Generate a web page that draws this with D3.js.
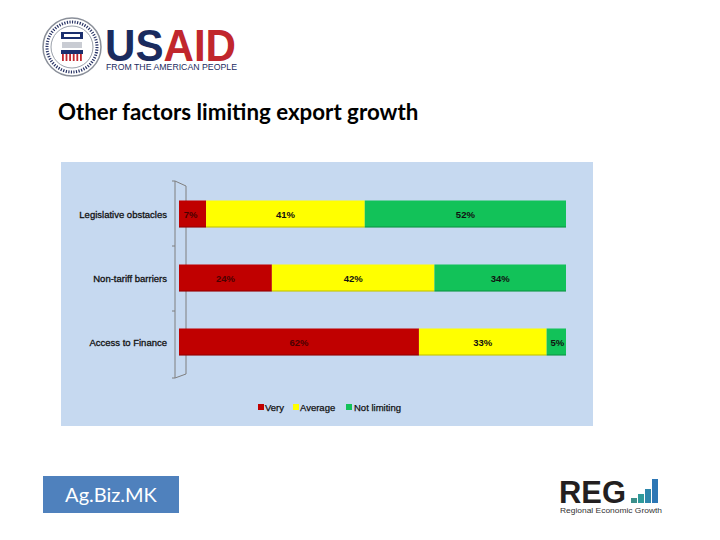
<!DOCTYPE html>
<html>
<head>
<meta charset="utf-8">
<script src="https://cdn.jsdelivr.net/npm/d3@7/dist/d3.min.js"></script>
<style>
  html, body { margin: 0; padding: 0; background: #ffffff; }
  svg { display: block; }
</style>
</head>
<body>
<svg id="chart" width="720" height="540"></svg>
<script>
// ---- data ----
const categories = ["Legislative obstacles", "Non-tariff barriers", "Access to Finance"];
const seriesNames = ["Very", "Average", "Not limiting"];
const very = [7, 24, 62];
const average = [41, 42, 33];
const notLimiting = [52, 34, 5];
const seriesColors = ["#c00000", "#ffff00", "#12c259"];
const titleText = "Other factors limiting export growth";

const svg = d3.select("#chart");

// ---- USAID logo ----
const logo = svg.append("g");
logo.append("circle").attr("cx", 72).attr("cy", 47).attr("r", 29)
  .attr("fill", "#fff").attr("stroke", "#8a8f99").attr("stroke-width", 1.5);
logo.append("circle").attr("cx", 72).attr("cy", 47).attr("r", 25)
  .attr("fill", "none").attr("stroke", "#2a3566").attr("stroke-width", 3).attr("stroke-dasharray", "1.2,1.4");
logo.append("circle").attr("cx", 72).attr("cy", 47).attr("r", 21)
  .attr("fill", "#fff").attr("stroke", "#9aa0aa").attr("stroke-width", 1);
logo.append("rect").attr("x", 61).attr("y", 32).attr("width", 22).attr("height", 7).attr("fill", "#1b2f6e");
logo.append("rect").attr("x", 64).attr("y", 34).attr("width", 16).attr("height", 3).attr("fill", "#ffffff");
logo.append("rect").attr("x", 62).attr("y", 42).attr("width", 20).attr("height", 6).attr("fill", "#c9ccd3");
logo.append("rect").attr("x", 61).attr("y", 50).attr("width", 22).attr("height", 4).attr("fill", "#1b2f6e");
for (let i = 0; i < 6; i++) {
  logo.append("rect").attr("x", 62 + i * 3.6).attr("y", 54).attr("width", 1.8).attr("height", 7).attr("fill", "#c1272d");
}
const usaidText = logo.append("text").attr("x", 105).attr("y", 61)
  .attr("font-family", "Liberation Sans, Arial, sans-serif").attr("font-weight", "bold").attr("font-size", 45)
  .attr("textLength", 131).attr("lengthAdjust", "spacingAndGlyphs");
usaidText.append("tspan").attr("fill", "#1a2b5e").text("US");
usaidText.append("tspan").attr("fill", "#c1272d").text("AID");
logo.append("text").attr("x", 106).attr("y", 70)
  .attr("font-family", "Liberation Sans, Arial, sans-serif").attr("font-size", 8.5).attr("fill", "#1a2b5e")
  .attr("textLength", 131).attr("lengthAdjust", "spacingAndGlyphs").text("FROM THE AMERICAN PEOPLE");

// ---- title ----
svg.append("text").attr("x", 58).attr("y", 120)
  .attr("font-family", "Lato, 'Open Sans', sans-serif").attr("font-weight", "bold").attr("font-size", 22.3)
  .attr("fill", "#000").text(titleText);

// ---- chart panel ----
svg.append("rect").attr("x", 61).attr("y", 162).attr("width", 532).attr("height", 264).attr("fill", "#c6d9f0");

const x = d3.scaleLinear().domain([0, 100]).range([179, 566]);
const y = d3.scaleBand().domain(categories).range([182, 374]).paddingInner(0.578).paddingOuter(0.289);

// 3D axis wall
const wall = svg.append("g").attr("fill", "none").attr("stroke", "#7f7f7f").attr("stroke-width", 1);
wall.append("path").attr("d", "M175,181 L175,378 L186,374 M175,181 L186,186 L186,374");
[181, 246, 311, 378].forEach(t => {
  wall.append("line").attr("x1", 172).attr("x2", 175).attr("y1", t).attr("y2", t);
});

// stacked bars
const rows = categories.map((c, i) => ({cat: c, "Very": very[i], "Average": average[i], "Not limiting": notLimiting[i]}));
const stack = d3.stack().keys(seriesNames)(rows);

const layers = svg.append("g").selectAll("g").data(stack).join("g")
  .attr("fill", (d, i) => seriesColors[i]);
layers.selectAll("rect").data(d => d).join("rect")
  .attr("x", d => x(d[0]))
  .attr("y", d => y(d.data.cat))
  .attr("width", d => x(d[1]) - x(d[0]))
  .attr("height", y.bandwidth());
layers.selectAll("line").data(d => d).join("line")
  .attr("x1", d => x(d[0])).attr("x2", d => x(d[1]))
  .attr("y1", d => y(d.data.cat) + y.bandwidth() - 0.5).attr("y2", d => y(d.data.cat) + y.bandwidth() - 0.5)
  .attr("stroke", "#000").attr("stroke-opacity", 0.25);

// value labels
stack.forEach((layer, si) => {
  svg.append("g").selectAll("text").data(layer).join("text")
    .attr("x", d => si === 2 && d.data["Not limiting"] < 8 ? (x(d[0]) + x(d[1])) / 2 + 1 : (x(d[0]) + x(d[1])) / 2 + (si === 0 && d.data["Very"] < 10 ? -2 : 0))
    .attr("y", d => y(d.data.cat) + y.bandwidth() / 2 + 3.5)
    .attr("text-anchor", "middle")
    .attr("font-family", "Liberation Sans, Arial, sans-serif").attr("font-size", 9.5).attr("font-weight", "bold")
    .attr("fill", si === 0 ? "#4a0000" : "#111")
    .text(d => (d[1] - d[0]) + "%");
});

// category labels
svg.append("g").selectAll("text").data(categories).join("text")
  .attr("x", 167)
  .attr("y", d => y(d) + y.bandwidth() / 2 + 3.5)
  .attr("text-anchor", "end")
  .attr("font-family", "Liberation Sans, Arial, sans-serif").attr("font-size", 9.5)
  .attr("fill", "#111").attr("stroke", "#111").attr("stroke-width", 0.3)
  .text(d => d);

// legend
const legendItems = [
  {name: seriesNames[0], color: seriesColors[0], sx: 258, tx: 265},
  {name: seriesNames[1], color: seriesColors[1], sx: 293, tx: 300},
  {name: seriesNames[2], color: seriesColors[2], sx: 346, tx: 354}
];
const lg = svg.append("g");
lg.selectAll("rect").data(legendItems).join("rect")
  .attr("x", d => d.sx).attr("y", 404).attr("width", 6).attr("height", 6).attr("fill", d => d.color);
lg.selectAll("text").data(legendItems).join("text")
  .attr("x", d => d.tx).attr("y", 411)
  .attr("font-family", "Liberation Sans, Arial, sans-serif").attr("font-size", 9.5)
  .attr("fill", "#111").attr("stroke", "#111").attr("stroke-width", 0.25)
  .text(d => d.name);

// ---- Ag.Biz.MK box ----
svg.append("rect").attr("x", 43).attr("y", 476).attr("width", 136).attr("height", 37).attr("fill", "#4f81bd");
svg.append("text").attr("x", 111).attr("y", 502).attr("text-anchor", "middle")
  .attr("font-family", "Lato, 'Open Sans', sans-serif").attr("font-size", 20).attr("fill", "#fff").text("Ag.Biz.MK");

// ---- REG logo ----
svg.append("text").attr("x", 559).attr("y", 503)
  .attr("font-family", "Liberation Sans, Arial, sans-serif").attr("font-size", 31).attr("font-weight", "bold")
  .attr("fill", "#231f20").attr("textLength", 67).attr("lengthAdjust", "spacingAndGlyphs").text("REG");
const regBars = [{x: 631, h: 5, c: "#3b8f8a"}, {x: 638, h: 9, c: "#2f9a9a"}, {x: 645, h: 14, c: "#2e86ab"}, {x: 652, h: 24, c: "#2d77b5"}];
svg.append("g").selectAll("rect").data(regBars).join("rect")
  .attr("x", d => d.x).attr("y", d => 503 - d.h).attr("width", 6).attr("height", d => d.h).attr("fill", d => d.c);
svg.append("text").attr("x", 560).attr("y", 513)
  .attr("font-family", "Liberation Sans, Arial, sans-serif").attr("font-size", 6.5)
  .attr("fill", "#333").attr("textLength", 102).attr("lengthAdjust", "spacingAndGlyphs").text("Regional Economic Growth");
</script>
</body>
</html>
